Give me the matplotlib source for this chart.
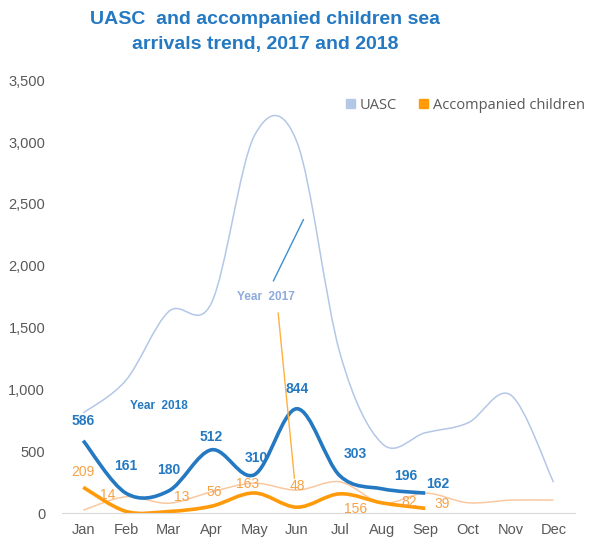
import matplotlib.pyplot as plt
import numpy as np
from matplotlib.path import Path
from matplotlib.patches import PathPatch, Patch

plt.rcParams['font.family'] = ['Liberation Sans', 'DejaVu Sans']

months = ['Jan', 'Feb', 'Mar', 'Apr', 'May', 'Jun', 'Jul', 'Aug', 'Sep', 'Oct', 'Nov', 'Dec']

# 2017 series (full year, thin lines)
uasc_2017 = [810, 1075, 1630, 1700, 3050, 3000, 1300, 560, 650, 730, 955, 250]
accomp_2017 = [24, 132, 80, 172, 242, 186, 253, 81, 162, 84, 105, 105]

# 2018 series (Jan-Sep, bold lines)
uasc_2018 = [586, 161, 180, 512, 310, 844, 303, 196, 162]
accomp_2018 = [209, 14, 13, 56, 163, 48, 156, 82, 39]

# label offsets in pixels (dx, dy) for each 2018 point
uasc_off = [(0, 20), (0, 27), (0, 21), (0, 13), (2, 17), (0, 20), (16, 22), (23, 13), (12, 9)]
accomp_off = [(0, 15), (-18, 16), (13, 15), (3, 14), (-7, 9), (0, 21), (16, -15), (27, 1), (17, 4)]

dark_blue = '#2479C2'
light_blue = '#B4C7E7'
orange = '#FF9A0A'
light_orange = '#FAC8A0'
label_orange = '#F5A246'


def smooth_path(x, y):
    # Catmull-Rom style cubic bezier through the points (Excel "smoothed line")
    pts = np.column_stack([x, y]).astype(float)
    n = len(pts)
    verts = [pts[0]]
    codes = [Path.MOVETO]
    for i in range(n - 1):
        p0 = pts[i - 1] if i > 0 else pts[i]
        p1 = pts[i]
        p2 = pts[i + 1]
        p3 = pts[i + 2] if i + 2 < n else pts[i + 1]
        c1 = p1 + (p2 - p0) / 6.0
        c2 = p2 - (p3 - p1) / 6.0
        verts += [c1, c2, p2]
        codes += [Path.CURVE4] * 3
    return Path(verts, codes)


fig = plt.figure(figsize=(5.89, 5.39), dpi=100)
ax = fig.add_axes([0.105, 0.048, 0.871, 0.803])

x17 = np.arange(len(uasc_2017))
x18 = np.arange(len(uasc_2018))

for xs, ys, col, lw in [(x17, uasc_2017, light_blue, 1.1),
                        (x17, accomp_2017, light_orange, 1.1),
                        (x18, uasc_2018, dark_blue, 2.6),
                        (x18, accomp_2018, orange, 2.6)]:
    ax.add_patch(PathPatch(smooth_path(xs, ys), facecolor='none', edgecolor=col,
                           lw=lw, capstyle='butt'))

for i, v in enumerate(uasc_2018):
    ax.annotate(str(v), (x18[i], v), xytext=uasc_off[i], textcoords='offset pixels',
                ha='center', va='center', fontsize=10, fontweight='bold', color=dark_blue)
for i, v in enumerate(accomp_2018):
    ax.annotate(str(v), (x18[i], v), xytext=accomp_off[i], textcoords='offset pixels',
                ha='center', va='center', fontsize=10, color=label_orange)

# year call-outs with leader lines
ax.text(1.77, 870, 'Year  2018', ha='center', va='center', fontsize=8.5,
        fontweight='bold', color=dark_blue)
ax.text(4.28, 1750, 'Year  2017', ha='center', va='center', fontsize=8.5,
        fontweight='bold', color='#8FAADC')
ax.plot([4.45, 5.15], [1879, 2373], color='#3D8FD1', lw=1)
ax.plot([4.56, 4.94], [1617, 283], color='#FFB040', lw=1)

ax.set_xlim(-0.5, 11.5)
ax.set_ylim(0, 3500)
ax.set_xticks(x17)
ax.set_xticklabels(months)
ax.set_yticks(np.arange(0, 3501, 500))
ax.set_yticklabels([f'{t:,}' for t in range(0, 3501, 500)])
ax.tick_params(axis='both', length=0, labelsize=10.5, colors='#595959')
ax.tick_params(axis='x', pad=7)
ax.tick_params(axis='y', pad=12)
for s in ['top', 'right', 'left']:
    ax.spines[s].set_visible(False)
ax.spines['bottom'].set_color('#D9D9D9')

handles = [Patch(color=light_blue, label='UASC'), Patch(color=orange, label='Accompanied children')]
ax.legend(handles=handles, loc='upper right', bbox_to_anchor=(1.045, 0.99), ncol=2,
          frameon=False, prop={'family': 'Open Sans', 'size': 10.5},
          handlelength=0.6, handleheight=0.6, handletextpad=0.35, columnspacing=1.5,
          labelcolor='#595959')

fig.text(0.45, 0.979, 'UASC  and accompanied children sea\narrivals trend, 2017 and 2018',
         ha='center', va='top', fontsize=14, fontweight='bold', color=dark_blue,
         linespacing=1.62)

fig.savefig('out.png', dpi=100)
